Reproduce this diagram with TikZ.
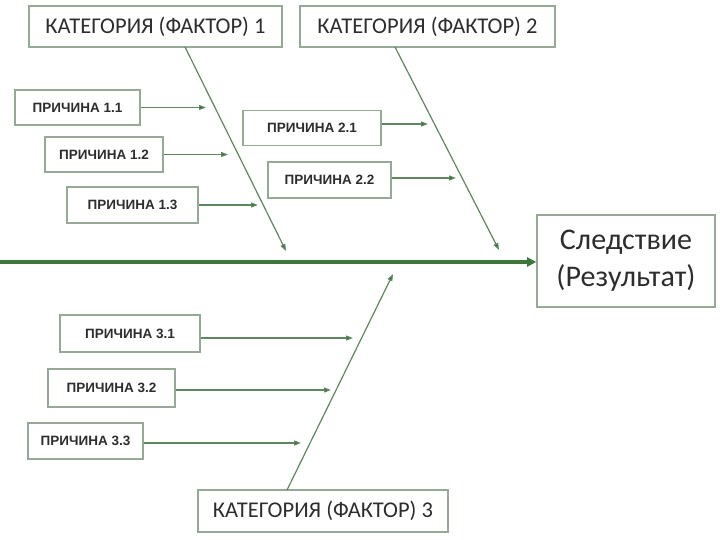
\documentclass[tikz,border=0pt]{standalone}
\usepackage{fontspec}
\setmainfont{Carlito}
\newfontfamily\causefont{Liberation Sans}
\usetikzlibrary{arrows.meta}
\definecolor{boxline}{RGB}{150,168,150}
\definecolor{thinline}{RGB}{95,135,95}
\definecolor{tipgreen}{RGB}{40,105,40}
\definecolor{spinegreen}{RGB}{60,120,60}
\definecolor{txt}{RGB}{45,45,45}
\tikzset{
  box/.style={draw=boxline, line width=1.6pt, fill=white, inner sep=0pt, text=txt},
  catbox/.style={box, font=\fontsize{22.5}{26}\selectfont},
  causebox/.style={box, font=\causefont\bfseries\fontsize{13.5}{15}\selectfont},
  effbox/.style={box, font=\fontsize{30}{37}\selectfont, align=center},
  bone/.style={draw=thinline, line width=1.2pt, -{Triangle[length=7pt,width=5pt,fill=tipgreen]}},
  spine/.style={draw=spinegreen, line width=3.5pt, -{Triangle[length=9pt,width=9pt,fill=spinegreen]}}
}
\begin{document}
\begin{tikzpicture}[x=1pt,y=-1pt]
\useasboundingbox (0,0) rectangle (720,540);
% category boxes
\node[catbox, minimum width=253pt, minimum height=41pt] (cat1) at (155.5,26.5) {КАТЕГОРИЯ (ФАКТОР) 1};
\node[catbox, minimum width=255pt, minimum height=41pt] (cat2) at (427.5,26.5) {КАТЕГОРИЯ (ФАКТОР) 2};
\node[catbox, minimum width=250pt, minimum height=42pt] (cat3) at (323,511) {КАТЕГОРИЯ (ФАКТОР) 3};
% effect
\node[effbox, minimum width=178pt, minimum height=92pt] (eff) at (626,261) {Следствие\\(Результат)};
% causes
\node[causebox, minimum width=125pt, minimum height=35pt] (p11) at (77.5,107.5) {ПРИЧИНА 1.1};
\node[causebox, minimum width=118pt, minimum height=35pt] (p12) at (104,154.5) {ПРИЧИНА 1.2};
\node[causebox, minimum width=131pt, minimum height=36pt] (p13) at (132.5,205) {ПРИЧИНА 1.3};
\node[causebox, minimum width=138pt, minimum height=35pt] (p21) at (312,128) {ПРИЧИНА 2.1};
\node[causebox, minimum width=123pt, minimum height=36pt] (p22) at (329.5,180) {ПРИЧИНА 2.2};
\node[causebox, minimum width=140pt, minimum height=37pt] (p31) at (130,333.5) {ПРИЧИНА 3.1};
\node[causebox, minimum width=127pt, minimum height=38pt] (p32) at (111.5,388) {ПРИЧИНА 3.2};
\node[causebox, minimum width=115pt, minimum height=36pt] (p33) at (85.5,441) {ПРИЧИНА 3.3};
% coordinates
\coordinate (s0) at (0,262);
\coordinate (c1a) at (185,47);
\coordinate (c1b) at (286,251);
\coordinate (c2a) at (395,47);
\coordinate (c2b) at (499,250);
\coordinate (c3a) at (287,490);
\coordinate (c3b) at (393,274);
\coordinate (t11) at (206,107.5);
\coordinate (t12) at (228,154.5);
\coordinate (t13) at (258,205);
\coordinate (t21) at (428,124);
\coordinate (t22) at (456,178);
\coordinate (t31) at (353,338);
\coordinate (t32) at (331,390);
\coordinate (t33) at (301,443);
% spine
\draw[spine] (s0) -- (eff.west |- s0);
% bones
\draw[bone] (c1a) -- (c1b);
\draw[bone] (c2a) -- (c2b);
\draw[bone] (c3a) -- (c3b);
\draw[bone] (p11.east) -- (t11);
\draw[bone] (p12.east) -- (t12);
\draw[bone] (p13.east) -- (t13);
\draw[bone] (p21.east |- t21) -- (t21);
\draw[bone] (p22.east |- t22) -- (t22);
\draw[bone] (p31.east |- t31) -- (t31);
\draw[bone] (p32.east |- t32) -- (t32);
\draw[bone] (p33.east |- t33) -- (t33);
\end{tikzpicture}
\end{document}
